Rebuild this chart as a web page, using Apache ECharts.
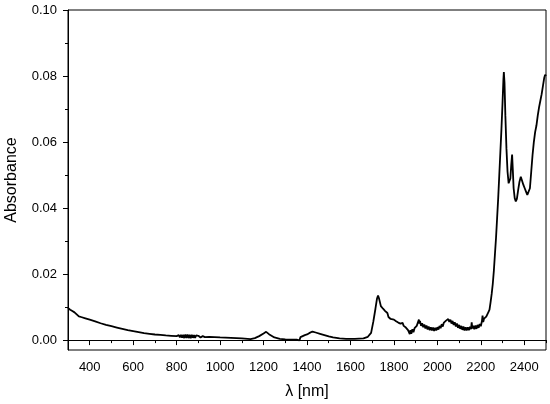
<!DOCTYPE html>
<html>
<head>
<meta charset="utf-8">
<script src="https://cdn.jsdelivr.net/npm/echarts@6/dist/echarts.min.js"></script>
<style>
html,body{margin:0;padding:0;background:#fff;}
#chart{width:550px;height:404px;}
</style>
</head>
<body>
<div id="chart"></div>
<script>
// wavelength (nm)
var wavelengths = [
300,310,320,330,340,350,355,360,380,400,
425,450,475,500,525,550,575,600,625,650,
675,700,725,750,775,800,805,810,815,820,
825,830,835,840,845,850,855,860,865,870,
875,880,885,890,895,900,910,920,930,950,
1000,1050,1100,1140,1160,1180,1200,1212,1225,1250,
1275,1300,1330,1355,1360,1362,1365,1370,1375,1380,
1385,1390,1400,1410,1425,1440,1460,1480,1500,1520,
1550,1580,1620,1660,1680,1695,1705,1715,1722,1727,
1732,1740,1750,1760,1770,1775,1785,1800,1805,1810,
1815,1820,1825,1830,1835,
1840,1845,1850,1855,1860,1865,1870,1873,1876,1880,
1885,1890,1895,1900,1905,1910,1915,1918,1920,1925,
1930,1935,1940,1945,1950,1955,1960,1965,1970,1975,
1980,1985,1990,1995,2000,2005,2010,2015,2020,2025,
2030,2035,2040,2045,2050,2055,2060,2065,2070,2075,
2080,2085,2090,2095,2100,2105,2110,2115,2120,2125,
2130,2135,2140,2145,2150,2155,2158,2161,2165,2170,
2175,2180,2185,2190,2195,2200,2205,2208,2211,2215,
2220,2225,2230,
2235,2240,2245,2250,2255,2260,2265,2270,2275,2280,
2285,2290,2295,2300,2304,2306,2309,2313,2318,2323,
2328,2332,2336,2340,2344,2347,2351,2356,2361,2366,
2372,2378,2384,2390,2396,2402,2408,2414,2420,2426,
2432,2438,2444,2450,2456,2462,2468,2474,2480,2486,
2492,2496,2500
];
// absorbance
var absorbance = [
0.0097,0.0092,0.0088,0.0084,0.0078,0.0072,0.0066,0.0070,0.0066,0.0062,
0.0057,0.0051,0.0046,0.0042,0.0038,0.0034,0.0030,0.0027,0.0024,0.0021,
0.0019,0.0017,0.0016,0.0014,0.0013,0.0012,0.0009,0.0015,0.0008,0.0016,
0.0007,0.0016,0.0006,0.0017,0.0006,0.0017,0.0006,0.0016,0.0006,0.0016,
0.0007,0.0015,0.0007,0.0014,0.0008,0.0013,0.0008,0.0012,0.0009,0.0010,
0.0008,0.0007,0.0005,0.0003,0.0006,0.0012,0.0020,0.0025,0.0018,0.0008,
0.0004,0.0002,0.0001,0.0001,-0.0003,0.0004,-0.0001,0.0009,0.0006,0.0012,
0.0008,0.0015,0.0017,0.0021,0.0026,0.0023,0.0019,0.0015,0.0011,0.0008,
0.0005,0.0004,0.0004,0.0005,0.0010,0.0022,0.0055,0.0095,0.0125,0.0135,
0.0125,0.0103,0.0095,0.0088,0.0082,0.0070,0.0064,0.0062,0.0065,0.0057,
0.0061,0.0053,0.0058,0.0050,0.0055,
0.0052,0.0043,0.0048,0.0038,0.0042,0.0030,0.0034,0.0018,0.0030,0.0019,
0.0033,0.0024,0.0036,0.0031,0.0043,0.0040,0.0062,0.0050,0.0058,0.0043,
0.0051,0.0039,0.0047,0.0035,0.0044,0.0032,0.0041,0.0030,0.0039,0.0029,
0.0038,0.0028,0.0037,0.0029,0.0039,0.0032,0.0043,0.0036,0.0048,0.0041,
0.0053,0.0047,0.0059,0.0053,0.0064,0.0055,0.0062,0.0050,0.0058,0.0046,
0.0054,0.0041,0.0050,0.0037,0.0046,0.0034,0.0043,0.0031,0.0041,0.0029,
0.0039,0.0029,0.0039,0.0030,0.0040,0.0033,0.0054,0.0035,0.0043,0.0033,
0.0044,0.0034,0.0046,0.0037,0.0049,0.0042,0.0057,0.0074,0.0055,0.0065,
0.0059,0.0071,0.0078,
0.0085,0.0092,0.0115,0.0140,0.0170,0.0210,0.0260,0.0310,0.0370,0.0430,
0.0500,0.0570,0.0640,0.0720,0.0790,0.0812,0.0780,0.0680,0.0580,0.0510,
0.0475,0.0470,0.0490,0.0530,0.0562,0.0520,0.0460,0.0430,0.0420,0.0428,
0.0455,0.0480,0.0495,0.0490,0.0470,0.0460,0.0450,0.0440,0.0435,0.0460,
0.0510,0.0560,0.0600,0.0630,0.0650,0.0680,0.0705,0.0725,0.0745,0.0770,
0.0795,0.0804,0.0800
];
var xTickLabels = [400,600,800,1000,1200,1400,1600,1800,2000,2200,2400];
var xMinorTicks = [300,500,700,900,1100,1300,1500,1700,1900,2100,2300,2500];
var yTickLabels = [0,0.02,0.04,0.06,0.08,0.10];
var yMinorTicks = [0.01,0.03,0.05,0.07,0.09];

var n = Math.min(wavelengths.length, absorbance.length);
var seriesData = [];
for (var i = 0; i < n; i++) seriesData.push([wavelengths[i], absorbance[i]]);
var font = '"Liberation Sans", Arial, sans-serif';

var chart = echarts.init(document.getElementById('chart'), null, {renderer:'canvas'});
chart.setOption({
  animation:false,
  backgroundColor:'#fff',
  grid:{left:68,right:4,top:10,bottom:54,containLabel:false,outerBoundsMode:'none',
    show:true,borderColor:'#000',borderWidth:1,backgroundColor:'transparent'},
  xAxis:[{
    type:'value',min:300,max:2500,position:'bottom',
    name:'λ [nm]',nameLocation:'middle',nameGap:34,
    nameTextStyle:{fontFamily:font,fontSize:16,color:'#000'},
    axisLine:{show:true,lineStyle:{color:'#000',width:1}},
    axisTick:{show:true,inside:false,length:5,customValues:xTickLabels,lineStyle:{color:'#000'}},
    axisLabel:{show:true,margin:11,customValues:xTickLabels,fontFamily:font,fontSize:13,color:'#000',
      formatter:function(v){return String(Math.round(v));}},
    splitLine:{show:false}
  },{
    type:'value',min:300,max:2500,position:'bottom',
    axisLine:{show:false},
    axisTick:{show:true,inside:false,length:3,customValues:xMinorTicks,lineStyle:{color:'#000'}},
    axisLabel:{show:false},
    splitLine:{show:false}
  }],
  yAxis:[{
    type:'value',min:-0.003,max:0.1,position:'left',
    name:'Absorbance',nameLocation:'middle',nameGap:48,
    nameTextStyle:{fontFamily:font,fontSize:16,color:'#000'},
    axisLine:{show:true,lineStyle:{color:'#000',width:1}},
    axisTick:{show:true,inside:false,length:5,customValues:yTickLabels,lineStyle:{color:'#000'}},
    axisLabel:{show:true,margin:11,customValues:yTickLabels,fontFamily:font,fontSize:13,color:'#000',
      formatter:function(v){return Number(v).toFixed(2);}},
    splitLine:{show:false}
  },{
    type:'value',min:-0.003,max:0.1,position:'left',
    axisLine:{show:false},
    axisTick:{show:true,inside:false,length:3,customValues:yMinorTicks,lineStyle:{color:'#000'}},
    axisLabel:{show:false},
    splitLine:{show:false}
  }],
  series:[{
    type:'line',xAxisIndex:0,yAxisIndex:0,data:seriesData,
    showSymbol:false,symbol:'none',smooth:false,
    lineStyle:{color:'#000',width:1.8}
  }]
});
</script>
</body>
</html>
